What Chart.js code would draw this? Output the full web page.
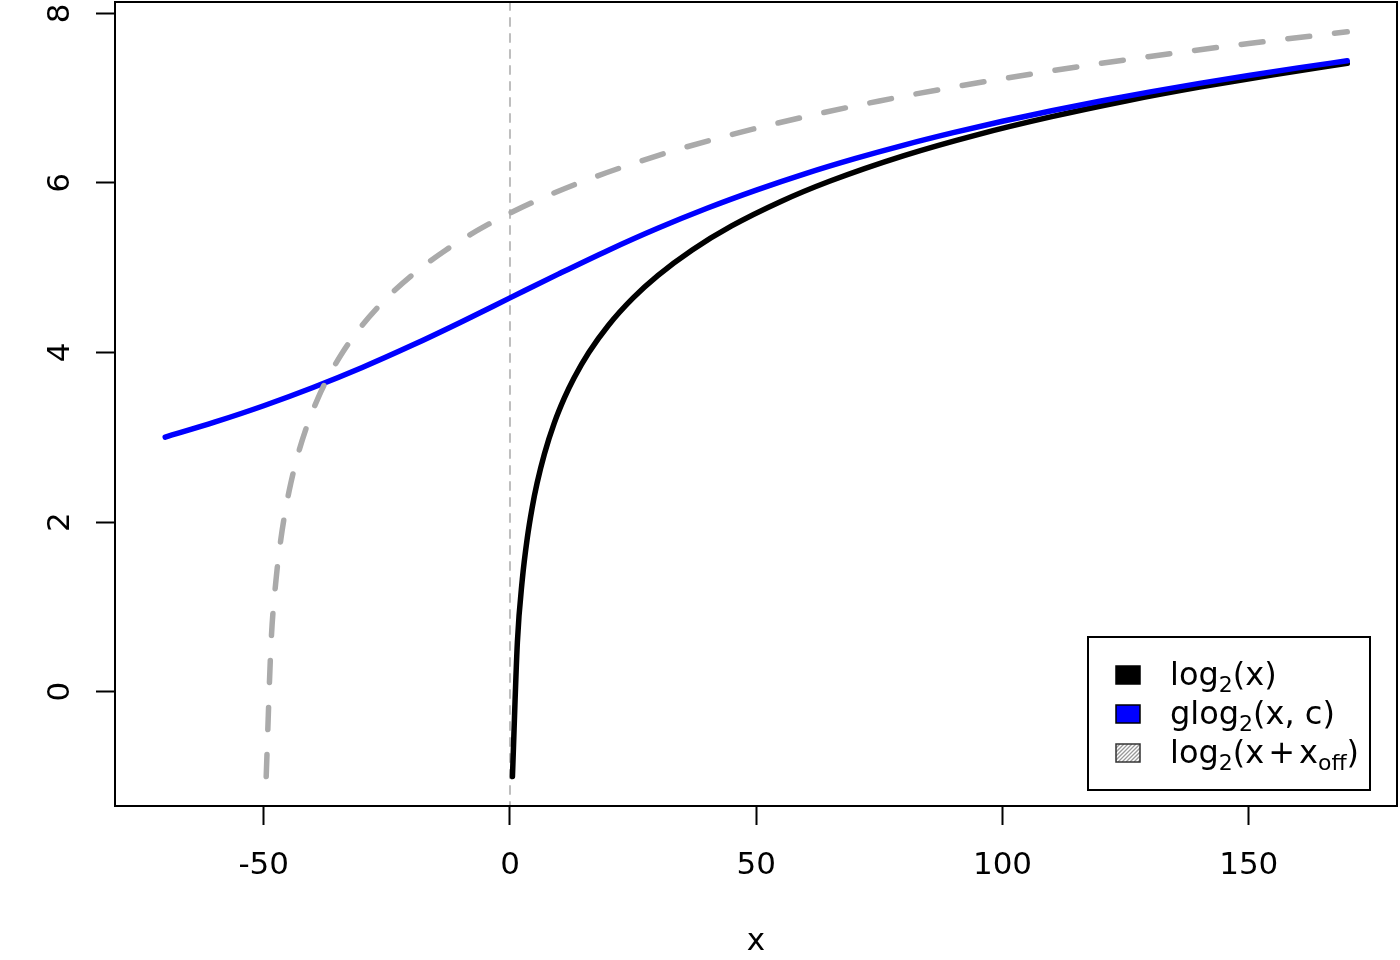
<!DOCTYPE html>
<html><head><meta charset="utf-8">
<script src="https://cdn.jsdelivr.net/npm/chart.js@4.4.1/dist/chart.umd.min.js"></script>
<style>html,body{margin:0;padding:0;background:#fff;}#wrap{width:1400px;height:960px;}</style>
</head><body><div id="wrap"><canvas id="c" width="1400" height="960"></canvas></div>
<script>
// log2(x)
const logX = [0.5, 1.5, 2.5, 3.5, 4.5, 5.5, 7, 9, 11, 13, 16, 20, 25, 30, 37, 45, 55, 65, 80, 95, 110, 125, 140, 155, 170];
const logY = [-1, 0.585, 1.322, 1.807, 2.170, 2.459, 2.807, 3.170, 3.459, 3.700, 4.000, 4.322, 4.644, 4.907, 5.209, 5.492, 5.781, 6.022, 6.322, 6.570, 6.781, 6.966, 7.129, 7.276, 7.409];
// glog2(x, c)
const glogX = [-70, -60, -50, -40, -30, -20, -10, 0, 10, 20, 30, 40, 50, 60, 70, 80, 90, 100, 110, 120, 130, 140, 150, 160, 170];
const glogY = [3.002, 3.178, 3.372, 3.587, 3.823, 4.081, 4.357, 4.644, 4.930, 5.207, 5.465, 5.701, 5.915, 6.110, 6.286, 6.446, 6.592, 6.727, 6.851, 6.966, 7.073, 7.173, 7.267, 7.356, 7.440];
// log2(x + x_off)
const offX = [-49.5, -48.5, -47.5, -46.5, -45.5, -44.5, -43, -41, -39, -37, -34, -30, -25, -20, -13, -5, 5, 15, 30, 45, 60, 75, 90, 105, 120, 135, 150, 170];
const offY = [-1, 0.585, 1.322, 1.807, 2.170, 2.459, 2.807, 3.170, 3.459, 3.700, 4.000, 4.322, 4.644, 4.907, 5.209, 5.492, 5.781, 6.022, 6.322, 6.570, 6.781, 6.966, 7.129, 7.276, 7.409, 7.531, 7.644, 7.781];

const xTicks = [-50, 0, 50, 100, 150];
const yTicks = [0, 2, 4, 6, 8];
const xTitle = 'x';

const legendItems = [
  { color: '#000000', hatch: false, parts: [{t:'log'},{t:'2',sub:true},{t:'(x)'}] },
  { color: '#0000FF', hatch: false, parts: [{t:'glog'},{t:'2',sub:true},{t:'(x, c)'}] },
  { color: '#AAAAAA', hatch: true,  parts: [{t:'log'},{t:'2',sub:true},{t:'(x',gap:4},{t:'+',gap:4},{t:'x'},{t:'off',sub:true},{t:')'}] }
];

const FONT = '"DejaVu Sans", "Liberation Sans", sans-serif';
const toPts = (xs, ys) => xs.map((x, i) => ({x: x, y: ys[i]}));

const rPlugin = {
  id: 'rstyle',
  beforeDatasetsDraw(chart) {
    const {ctx, chartArea: a, scales: {x}} = chart;
    const px = x.getPixelForValue(0);
    ctx.save();
    ctx.strokeStyle = '#BEBEBE';
    ctx.lineWidth = 2;
    ctx.setLineDash([8, 8]);
    ctx.lineCap = 'round';
    ctx.beginPath();
    ctx.moveTo(px, a.top);
    ctx.lineTo(px, a.bottom);
    ctx.stroke();
    ctx.restore();
  },
  afterDraw(chart) {
    const {ctx, chartArea: a, scales: {y}} = chart;
    ctx.save();
    // box
    ctx.strokeStyle = '#000';
    ctx.lineWidth = 2;
    ctx.setLineDash([]);
    ctx.strokeRect(a.left, a.top, a.right - a.left, a.bottom - a.top);
    // y tick labels rotated
    ctx.fillStyle = '#000';
    ctx.font = '31px ' + FONT;
    ctx.textAlign = 'center';
    ctx.textBaseline = 'alphabetic';
    yTicks.forEach(v => {
      const py = y.getPixelForValue(v);
      ctx.save();
      ctx.translate(69, py);
      ctx.rotate(-Math.PI / 2);
      ctx.fillText(String(v), 0, 0);
      ctx.restore();
    });
    // legend
    const lx = 1088, ly = 637, lw = 282, lh = 153;
    ctx.fillStyle = '#fff';
    ctx.fillRect(lx, ly, lw, lh);
    ctx.strokeStyle = '#000';
    ctx.lineWidth = 2;
    ctx.strokeRect(lx, ly, lw, lh);
    legendItems.forEach((it, i) => {
      const cy = 675 + i * 39;
      const bx = 1116, bw = 24, bh = 18, by = cy - bh / 2;
      if (it.hatch) {
        ctx.fillStyle = '#fff';
        ctx.fillRect(bx, by, bw, bh);
        ctx.save();
        ctx.beginPath();
        ctx.rect(bx, by, bw, bh);
        ctx.clip();
        ctx.strokeStyle = '#999';
        ctx.lineWidth = 1.3;
        for (let k = -bh; k < bw + bh; k += 4) {
          ctx.beginPath();
          ctx.moveTo(bx + k, by + bh);
          ctx.lineTo(bx + k + bh, by);
          ctx.stroke();
        }
        ctx.restore();
        ctx.strokeStyle = '#333';
        ctx.lineWidth = 1.5;
        ctx.strokeRect(bx, by, bw, bh);
      } else {
        ctx.fillStyle = it.color;
        ctx.fillRect(bx, by, bw, bh);
        ctx.strokeStyle = '#000';
        ctx.lineWidth = 1.5;
        ctx.strokeRect(bx, by, bw, bh);
      }
      let tx = 1170;
      const base = cy + 10;
      ctx.fillStyle = '#000';
      ctx.textAlign = 'left';
      ctx.textBaseline = 'alphabetic';
      it.parts.forEach(p => {
        ctx.font = (p.sub ? '22px ' : '32px ') + FONT;
        ctx.fillText(p.t, tx, base + (p.sub ? 7 : 0));
        tx += ctx.measureText(p.t).width + (p.gap || 0);
      });
    });
    ctx.restore();
  }
};

new Chart(document.getElementById('c'), {
  type: 'scatter',
  data: {
    datasets: [
      { label: 'log2(x + x_off)', data: toPts(offX, offY), showLine: true, borderColor: '#AAAAAA', borderWidth: 5.5,
        borderDash: [22, 25], borderCapStyle: 'round', borderJoinStyle: 'round', pointRadius: 0, cubicInterpolationMode: 'monotone', order: 1 },
      { label: 'glog2(x, c)', data: toPts(glogX, glogY), showLine: true, borderColor: '#0000FF', borderWidth: 5.5,
        borderCapStyle: 'round', borderJoinStyle: 'round', pointRadius: 0, cubicInterpolationMode: 'monotone', order: 2 },
      { label: 'log2(x)', data: toPts(logX, logY), showLine: true, borderColor: '#000000', borderWidth: 5.5,
        borderCapStyle: 'round', borderJoinStyle: 'round', pointRadius: 0, cubicInterpolationMode: 'monotone', order: 3 }
    ]
  },
  options: {
    responsive: false,
    devicePixelRatio: 1,
    animation: false,
    layout: { padding: { left: 0, right: 3, top: 2, bottom: 0 } },
    plugins: { legend: { display: false }, tooltip: { enabled: false } },
    scales: {
      x: {
        type: 'linear', min: -80.2, max: 180.1,
        afterBuildTicks: s => { s.ticks = xTicks.map(v => ({ value: v })); },
        afterFit: s => { s.height = 154; },
        grid: { drawOnChartArea: false, drawTicks: true, tickLength: 19, tickWidth: 2, tickColor: '#000' },
        border: { display: false },
        ticks: { font: { family: FONT, size: 31 }, color: '#000', padding: 22, maxRotation: 0, autoSkip: false },
        title: { display: true, text: xTitle, font: { family: FONT, size: 31 }, color: '#000', padding: { top: 0, bottom: -1 } }
      },
      y: {
        type: 'linear', min: -1.348, max: 8.133,
        afterBuildTicks: s => { s.ticks = yTicks.map(v => ({ value: v })); },
        afterFit: s => { s.width = 115; },
        grid: { drawOnChartArea: false, drawTicks: true, tickLength: 19, tickWidth: 2, tickColor: '#000' },
        border: { display: false },
        ticks: { display: false }
      }
    }
  },
  plugins: [rPlugin]
});
</script></body></html>
